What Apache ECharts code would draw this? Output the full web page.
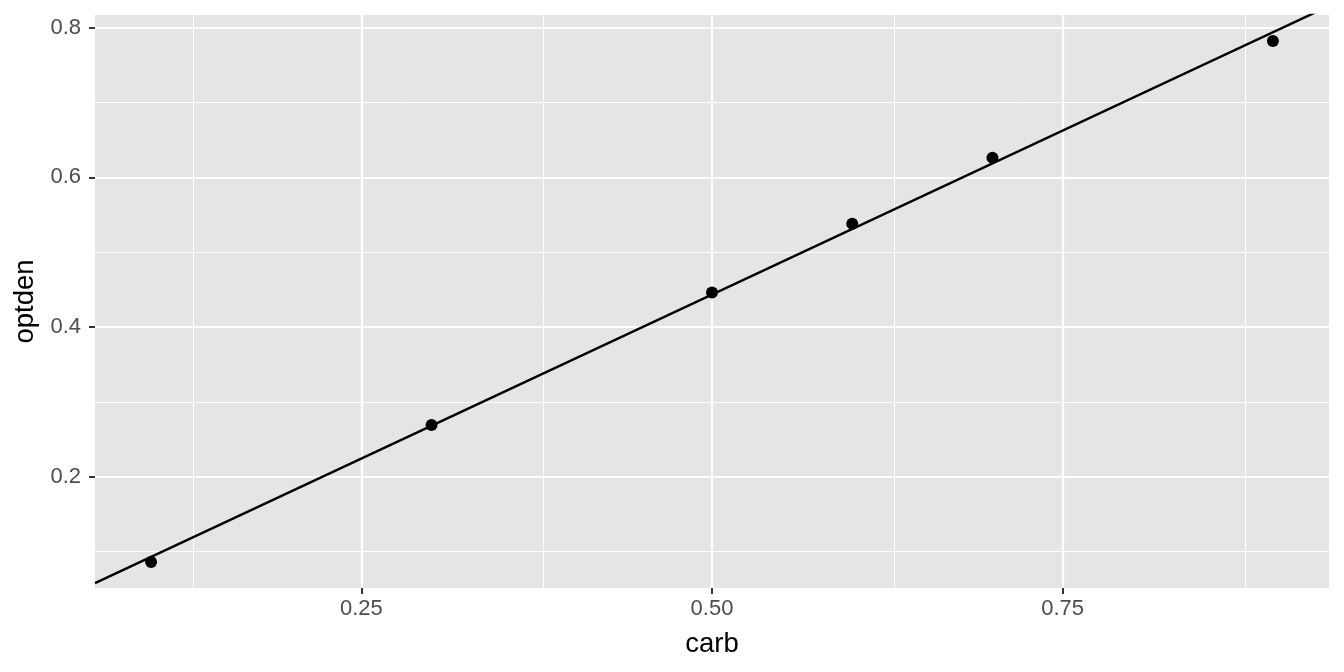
<!DOCTYPE html>
<html>
<head>
<meta charset="utf-8">
<script src="https://cdn.jsdelivr.net/npm/echarts@6/dist/echarts.min.js"></script>
<style>html,body{margin:0;padding:0;background:#fff}#c{width:1344px;height:672px}</style>
</head>
<body>
<div id="c"></div>
<script>
const carb = [0.1, 0.3, 0.5, 0.6, 0.7, 0.9];
const optden = [0.086, 0.269, 0.446, 0.538, 0.626, 0.782];
const xMajor = [0.25, 0.5, 0.75];
const xMinor = [0.125, 0.375, 0.625, 0.875];
const yMajor = [0.2, 0.4, 0.6, 0.8];
const yMinor = [0.1, 0.3, 0.5, 0.7];
const xLabels = ['0.25', '0.50', '0.75'];
const yLabels = ['0.2', '0.4', '0.6', '0.8'];

// ggplot-like expansion of ranges (5%)
const xr = [Math.min(...carb), Math.max(...carb)];
const yr = [Math.min(...optden), Math.max(...optden)];
const xMin = xr[0] - 0.05 * (xr[1] - xr[0]), xMax = xr[1] + 0.05 * (xr[1] - xr[0]);
const yMin = yr[0] - 0.05 * (yr[1] - yr[0]), yMax = yr[1] + 0.05 * (yr[1] - yr[0]);

// least squares fit
const n = carb.length;
const mx = carb.reduce((a, b) => a + b, 0) / n;
const my = optden.reduce((a, b) => a + b, 0) / n;
let sxy = 0, sxx = 0;
for (let i = 0; i < n; i++) { sxy += (carb[i] - mx) * (optden[i] - my); sxx += (carb[i] - mx) ** 2; }
const slope = sxy / sxx, intercept = my - slope * mx;
const fitLine = [[xMin, intercept + slope * xMin], [xMax, intercept + slope * xMax]];

const gridLines = [];
xMinor.forEach(v => gridLines.push({ xAxis: v, lineStyle: { width: 1 } }));
yMinor.forEach(v => gridLines.push({ yAxis: v, lineStyle: { width: 1 } }));
xMajor.forEach(v => gridLines.push({ xAxis: v, lineStyle: { width: 2.2 } }));
yMajor.forEach(v => gridLines.push({ yAxis: v, lineStyle: { width: 2.2 } }));

const fmt = (vals, labs) => v => { const i = vals.findIndex(t => Math.abs(t - v) < 1e-9); return i >= 0 ? labs[i] : ''; };
const FONT = 'Liberation Sans, Arial, sans-serif';

const chart = echarts.init(document.getElementById('c'));
chart.setOption({
  animation: false,
  grid: { left: 95, right: 15, top: 15, bottom: 84, show: true, backgroundColor: '#E5E5E5', borderWidth: 0 },
  xAxis: {
    type: 'value', min: xMin, max: xMax,
    name: 'carb', nameLocation: 'middle', nameGap: 42,
    nameTextStyle: { fontFamily: FONT, fontSize: 27.5, color: '#000' },
    axisLine: { show: false },
    splitLine: { show: false },
    axisTick: { show: true, length: 6, lineStyle: { color: '#333', width: 2 }, customValues: xMajor },
    axisLabel: { customValues: xMajor, formatter: fmt(xMajor, xLabels), fontFamily: FONT, fontSize: 22, color: '#4D4D4D', margin: 10 }
  },
  yAxis: {
    type: 'value', min: yMin, max: yMax,
    name: 'optden', nameLocation: 'middle', nameGap: 53, nameRotate: 90,
    nameTextStyle: { fontFamily: FONT, fontSize: 27.5, color: '#000' },
    axisLine: { show: false },
    splitLine: { show: false },
    axisTick: { show: true, length: 6, lineStyle: { color: '#333', width: 2 }, customValues: yMajor },
    axisLabel: { customValues: yMajor, formatter: fmt(yMajor, yLabels), fontFamily: FONT, fontSize: 22, color: '#4D4D4D', margin: 14 }
  },
  series: [
    {
      type: 'line', data: [], silent: true, z: 1,
      markLine: { silent: true, z: 1, symbol: 'none', label: { show: false }, animation: false,
        lineStyle: { color: '#fff', type: 'solid' }, emphasis: { disabled: true }, data: gridLines }
    },
    {
      type: 'line', data: fitLine, symbol: 'none', clip: true, silent: true,
      lineStyle: { color: '#000', width: 2.4 }, z: 3
    },
    {
      type: 'scatter', data: carb.map((c, i) => [c, optden[i]]), symbolSize: 12,
      itemStyle: { color: '#000', opacity: 1 }, z: 4
    }
  ]
});
</script>
</body>
</html>
